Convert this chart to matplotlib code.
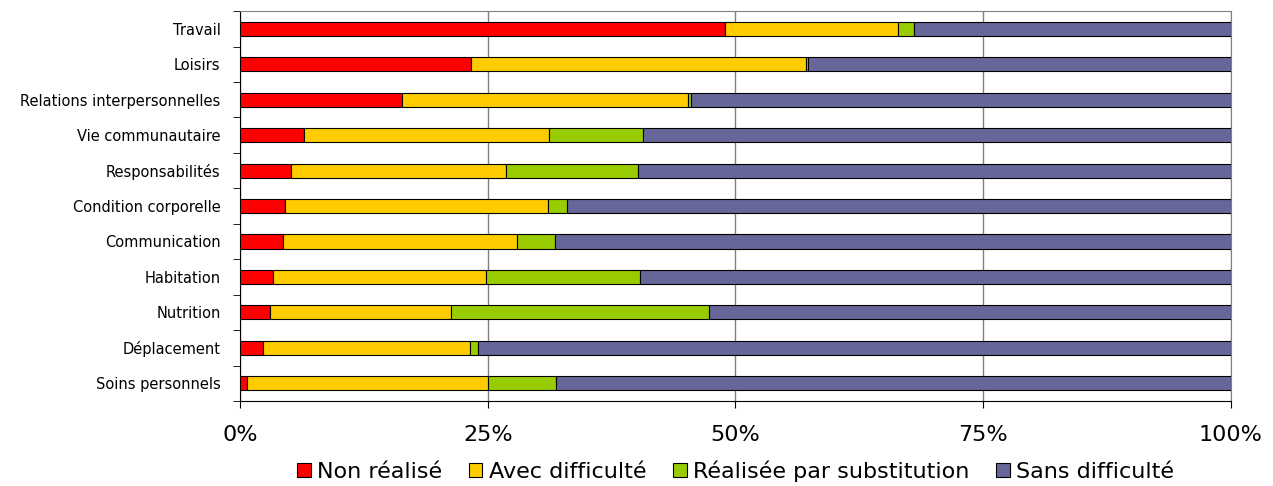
import numpy as np
import matplotlib.pyplot as plt
from matplotlib.ticker import FixedLocator, PercentFormatter

# categories, top to bottom
categories = ["Travail", "Loisirs", "Relations interpersonnelles",
              "Vie communautaire", "Responsabilités", "Condition corporelle",
              "Communication", "Habitation", "Nutrition", "Déplacement",
              "Soins personnels"]

# shares in % for each category
non_realise = [48.9, 23.3, 16.4, 6.5, 5.1, 4.5, 4.3, 3.3, 3.0, 2.3, 0.7]
avec_difficulte = [17.5, 33.8, 28.8, 24.7, 21.7, 26.6, 23.7, 21.5, 18.3, 20.9, 24.3]
substitution = [1.6, 0.2, 0.3, 9.5, 13.4, 1.9, 3.8, 15.6, 26.0, 0.8, 6.9]
sans_difficulte = [32.0, 42.7, 54.5, 59.3, 59.8, 67.0, 68.2, 59.6, 52.7, 76.0, 68.1]

series = [
    ("Non réalisé", non_realise, "#FF0000"),
    ("Avec difficulté", avec_difficulte, "#FFCC00"),
    ("Réalisée par substitution", substitution, "#99CC00"),
    ("Sans difficulté", sans_difficulte, "#666699"),
]

fig = plt.figure(figsize=(12.73, 4.86), dpi=100)
ax = fig.add_axes([0.1885, 0.175, 0.7785, 0.802])

y = np.arange(len(categories))
left = np.zeros(len(categories))
for name, vals, col in series:
    vals = np.array(vals)
    ax.barh(y, vals, left=left, height=0.4, color=col, edgecolor="black",
            linewidth=0.8, label=name, zorder=3)
    left += vals

ax.set_xlim(0, 100)
ax.set_ylim(len(categories) - 0.5, -0.5)

ax.set_xticks([0, 25, 50, 75, 100])
ax.xaxis.set_major_formatter(PercentFormatter(decimals=0))
ax.tick_params(axis="x", direction="out", length=5, pad=12, labelsize=16)
ax.grid(axis="x", color="#808080", linewidth=1, zorder=0)

ax.set_yticks(y)
ax.set_yticklabels(categories, fontsize=10.5)
ax.yaxis.set_minor_locator(FixedLocator(np.arange(-0.5, len(categories), 1)))
ax.tick_params(axis="y", which="major", length=0, pad=14)
ax.tick_params(axis="y", which="minor", length=5, direction="out")

for side in ("top", "right"):
    ax.spines[side].set_color("#808080")
for side in ("left", "bottom"):
    ax.spines[side].set_color("black")

fig.legend(loc="lower center", bbox_to_anchor=(0.578, -0.032), ncol=4,
           frameon=False, fontsize=16, handlelength=0.6, handleheight=0.6,
           handletextpad=0.3, columnspacing=1.2)

fig.savefig("out.png", dpi=100)
